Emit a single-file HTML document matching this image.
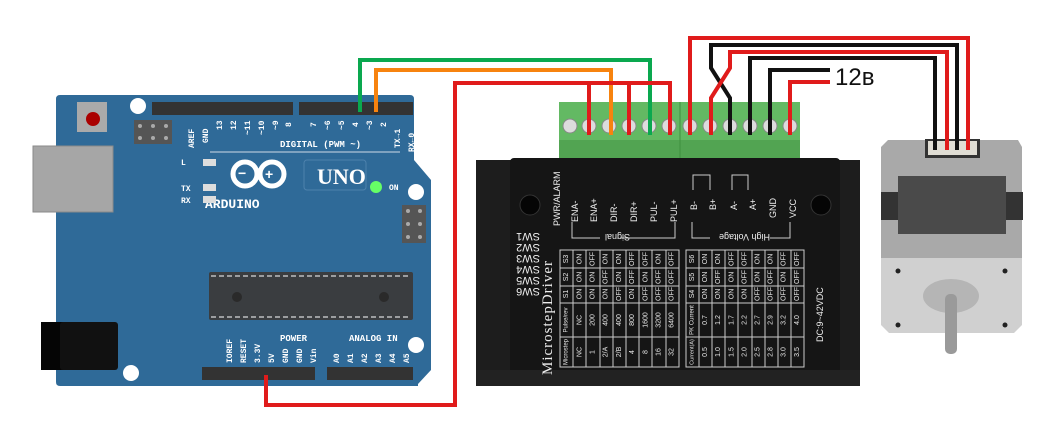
<!DOCTYPE html>
<html><head><meta charset="utf-8"><style>
html,body{margin:0;padding:0;background:#fff;}
svg{display:block}
.t7{font-family:"Liberation Sans",sans-serif;font-size:7px;fill:#e8e8e8;}
.lb{font-family:"Liberation Sans",sans-serif;font-size:9px;fill:#eee;}
.ar{font-family:"Liberation Mono",monospace;font-weight:bold;fill:#fff;}
</style></head><body>
<svg width="1061" height="434" viewBox="0 0 1061 434" xmlns="http://www.w3.org/2000/svg">
<rect width="1061" height="434" fill="#fff"/>
<!-- ARDUINO -->
<path d="M60 95 H410 Q414 95 414 99 V160 L431 180 V370 L418 384 V386 H60 Q56 386 56 382 V99 Q56 95 60 95Z" fill="#2f6a98"/>
<rect x="33" y="146" width="80" height="66" fill="#a6a6a6" stroke="#8a8a8a"/>
<rect x="41" y="322" width="56" height="48" fill="#050505"/>
<rect x="60" y="322" width="58" height="48" rx="3" fill="#111"/>
<rect x="77" y="102" width="30" height="30" fill="#aaa"/>
<circle cx="93" cy="119" r="7" fill="#a00"/>
<circle cx="138" cy="106" r="8" fill="#fff"/>
<circle cx="416" cy="192" r="8" fill="#fff"/>
<circle cx="416" cy="345" r="8" fill="#fff"/>
<circle cx="131" cy="373" r="8" fill="#fff"/>
<rect x="134" y="120" width="38" height="24" fill="#555"/>
<g fill="#aaa"><circle cx="140" cy="126" r="2"/><circle cx="153" cy="126" r="2"/><circle cx="166" cy="126" r="2"/><circle cx="140" cy="138" r="2"/><circle cx="153" cy="138" r="2"/><circle cx="166" cy="138" r="2"/></g>
<rect x="152" y="102" width="141" height="13" fill="#333"/>
<rect x="299" y="102" width="114" height="13" fill="#333"/>
<rect x="202" y="367" width="113" height="13" fill="#333"/>
<rect x="327" y="367" width="86" height="13" fill="#333"/>
<rect x="402" y="205" width="24" height="38" fill="#555"/>
<g fill="#aaa"><circle cx="408" cy="211" r="2"/><circle cx="420" cy="211" r="2"/><circle cx="408" cy="224" r="2"/><circle cx="420" cy="224" r="2"/><circle cx="408" cy="237" r="2"/><circle cx="420" cy="237" r="2"/></g>
<rect x="209" y="272" width="204" height="48" rx="2" fill="#3a3d40"/>
<line x1="211" y1="276" x2="411" y2="276" stroke="#fff" stroke-dasharray="5 3"/>
<line x1="211" y1="317" x2="411" y2="317" stroke="#fff" stroke-dasharray="5 3"/>
<circle cx="237" cy="297" r="5" fill="#2a2a2a"/><circle cx="384" cy="297" r="5" fill="#2a2a2a"/>
<g class="ar" font-size="9">
<text x="280" y="147">DIGITAL (PWM ~)</text>
<text x="205" y="208" font-size="13">ARDUINO</text>
<text x="317" y="184" font-size="22" font-family="Liberation Serif">UNO</text>
<text x="389" y="190" font-size="8">ON</text>
<text x="181" y="165" font-size="8">L</text>
<text x="181" y="191" font-size="8">TX</text>
<text x="181" y="203" font-size="8">RX</text>
<text x="280" y="341">POWER</text>
<text x="349" y="341">ANALOG IN</text>
</g>
<g class="ar" font-size="8">
<text transform="translate(194,148) rotate(-90)">AREF</text>
<text transform="translate(208,143) rotate(-90)">GND</text>
<text transform="translate(222,130) rotate(-90)">13</text>
<text transform="translate(236,130) rotate(-90)">12</text>
<text transform="translate(250,135) rotate(-90)">~11</text>
<text transform="translate(264,135) rotate(-90)">~10</text>
<text transform="translate(278,130) rotate(-90)">~9</text>
<text transform="translate(291,127) rotate(-90)">8</text>
<text transform="translate(316,127) rotate(-90)">7</text>
<text transform="translate(330,130) rotate(-90)">~6</text>
<text transform="translate(344,130) rotate(-90)">~5</text>
<text transform="translate(358,127) rotate(-90)">4</text>
<text transform="translate(372,130) rotate(-90)">~3</text>
<text transform="translate(386,127) rotate(-90)">2</text>
<text transform="translate(400,148) rotate(-90)">TX→1</text>
<text transform="translate(414,152) rotate(-90)">RX←0</text>
<text transform="translate(232,363) rotate(-90)">IOREF</text>
<text transform="translate(246,363) rotate(-90)">RESET</text>
<text transform="translate(260,363) rotate(-90)">3.3V</text>
<text transform="translate(274,363) rotate(-90)">5V</text>
<text transform="translate(288,363) rotate(-90)">GND</text>
<text transform="translate(302,363) rotate(-90)">GND</text>
<text transform="translate(316,363) rotate(-90)">Vin</text>
<text transform="translate(339,363) rotate(-90)">A0</text>
<text transform="translate(353,363) rotate(-90)">A1</text>
<text transform="translate(367,363) rotate(-90)">A2</text>
<text transform="translate(381,363) rotate(-90)">A3</text>
<text transform="translate(395,363) rotate(-90)">A4</text>
<text transform="translate(409,363) rotate(-90)">A5</text>
</g>
<line x1="210" y1="152" x2="400" y2="152" stroke="#cfdbe6"/>
<g fill="none" stroke="#fff" stroke-width="5"><circle cx="245" cy="174" r="12"/><circle cx="272" cy="174" r="12"/></g>
<text x="238" y="178" fill="#fff" font-size="14" font-weight="bold" font-family="Liberation Sans">−</text>
<text x="265" y="179" fill="#fff" font-size="14" font-weight="bold" font-family="Liberation Sans">+</text>
<rect x="304" y="160" width="62" height="30" rx="3" fill="none" stroke="#4e82ad"/>
<rect x="203" y="159" width="13" height="7" fill="#ddd"/><rect x="203" y="184" width="13" height="7" fill="#ddd"/><rect x="203" y="196" width="13" height="7" fill="#ddd"/>
<circle cx="376" cy="187" r="6" fill="#6f6"/>
<!-- DRIVER -->
<rect x="476" y="160" width="384" height="226" fill="#1d1d1d"/>
<rect x="510" y="158" width="330" height="222" rx="4" fill="#151515"/>
<rect x="476" y="370" width="384" height="16" fill="#222"/>
<circle cx="530" cy="205" r="10" fill="#050505" stroke="#333"/>
<circle cx="821" cy="205" r="10" fill="#050505" stroke="#333"/>
<rect x="559" y="102" width="241" height="56" fill="#63b963"/>
<rect x="559" y="140" width="241" height="18" fill="#52a452"/>
<line x1="680" y1="102" x2="680" y2="158" stroke="#3f8f3f"/>
<g fill="#dcdcdc" stroke="#888">
<circle cx="570" cy="126" r="7"/><circle cx="589" cy="126" r="7"/><circle cx="609" cy="126" r="7"/><circle cx="629" cy="126" r="7"/><circle cx="649" cy="126" r="7"/><circle cx="669" cy="126" r="7"/>
<circle cx="690" cy="126" r="7"/><circle cx="710" cy="126" r="7"/><circle cx="730" cy="126" r="7"/><circle cx="750" cy="126" r="7"/><circle cx="770" cy="126" r="7"/><circle cx="790" cy="126" r="7"/>
</g>
<g class="lb">
<text transform="translate(560,226) rotate(-90)" font-size="9">PWR/ALARM</text>
<text transform="translate(578,222) rotate(-90)">ENA-</text>
<text transform="translate(597,222) rotate(-90)">ENA+</text>
<text transform="translate(617,222) rotate(-90)">DIR-</text>
<text transform="translate(637,222) rotate(-90)">DIR+</text>
<text transform="translate(657,222) rotate(-90)">PUL-</text>
<text transform="translate(677,222) rotate(-90)">PUL+</text>
<text transform="translate(697,210) rotate(-90)">B-</text>
<text transform="translate(716,210) rotate(-90)">B+</text>
<text transform="translate(737,210) rotate(-90)">A-</text>
<text transform="translate(756,210) rotate(-90)">A+</text>
<text transform="translate(776,218) rotate(-90)">GND</text>
<text transform="translate(796,218) rotate(-90)">VCC</text>
<text transform="translate(630,234) rotate(180)">Signal</text>
<text transform="translate(770,234) rotate(180)">High Voltage</text>
<text transform="translate(823,342) rotate(-90)">DC:9~42VDC</text>
<text transform="translate(552,375) rotate(-90)" font-size="15" font-family="Liberation Serif" letter-spacing="1">MicrostepDriver</text>
<g font-size="11">
<text transform="translate(540,233) rotate(180)">SW1</text>
<text transform="translate(540,244) rotate(180)">SW2</text>
<text transform="translate(540,255) rotate(180)">SW3</text>
<text transform="translate(540,266) rotate(180)">SW4</text>
<text transform="translate(540,277) rotate(180)">SW5</text>
<text transform="translate(540,288) rotate(180)">SW6</text>
</g>
</g>
<g fill="none" stroke="#ccc" stroke-width="1">
<path d="M572 222 V238 H600 M620 238 H675 V222"/>
<path d="M692 222 V238 H710 M770 238 H790 V222"/>
<path d="M693 190 V175 H710 V190 M732 190 V175 H748 V190"/>
<rect x="560" y="250" width="119" height="117"/>
<rect x="686" y="250" width="118" height="117"/>
<path d="M560 268H679M560 286H679M560 303H679M560 337H679M686 268H804M686 286H804M686 303H804M686 337H804"/>
<path d="M573 250V367M586 250V367M600 250V367M613 250V367M626 250V367M639 250V367M652 250V367M666 250V367"/>
<path d="M699 250V367M712 250V367M725 250V367M738 250V367M752 250V367M765 250V367M778 250V367M791 250V367"/>
</g>
<g class="t7" text-anchor="middle" dominant-baseline="central">
<text transform="translate(566.6,352) rotate(-90)" font-size="6">Microstep</text><text transform="translate(566.6,320) rotate(-90)" font-size="6">Pulse/rev</text><text transform="translate(566.6,294) rotate(-90)">S1</text><text transform="translate(566.6,277) rotate(-90)">S2</text><text transform="translate(566.6,259) rotate(-90)">S3</text>
<text transform="translate(579.8,352) rotate(-90)">NC</text><text transform="translate(579.8,320) rotate(-90)">NC</text><text transform="translate(579.8,294) rotate(-90)">ON</text><text transform="translate(579.8,277) rotate(-90)">ON</text><text transform="translate(579.8,259) rotate(-90)">ON</text>
<text transform="translate(593,352) rotate(-90)">1</text><text transform="translate(593,320) rotate(-90)">200</text><text transform="translate(593,294) rotate(-90)">ON</text><text transform="translate(593,277) rotate(-90)">ON</text><text transform="translate(593,259) rotate(-90)">OFF</text>
<text transform="translate(606.2,352) rotate(-90)">2/A</text><text transform="translate(606.2,320) rotate(-90)">400</text><text transform="translate(606.2,294) rotate(-90)">ON</text><text transform="translate(606.2,277) rotate(-90)">OFF</text><text transform="translate(606.2,259) rotate(-90)">ON</text>
<text transform="translate(619.4,352) rotate(-90)">2/B</text><text transform="translate(619.4,320) rotate(-90)">400</text><text transform="translate(619.4,294) rotate(-90)">OFF</text><text transform="translate(619.4,277) rotate(-90)">ON</text><text transform="translate(619.4,259) rotate(-90)">ON</text>
<text transform="translate(632.6,352) rotate(-90)">4</text><text transform="translate(632.6,320) rotate(-90)">800</text><text transform="translate(632.6,294) rotate(-90)">ON</text><text transform="translate(632.6,277) rotate(-90)">OFF</text><text transform="translate(632.6,259) rotate(-90)">OFF</text>
<text transform="translate(645.8,352) rotate(-90)">8</text><text transform="translate(645.8,320) rotate(-90)">1600</text><text transform="translate(645.8,294) rotate(-90)">OFF</text><text transform="translate(645.8,277) rotate(-90)">ON</text><text transform="translate(645.8,259) rotate(-90)">OFF</text>
<text transform="translate(659,352) rotate(-90)">16</text><text transform="translate(659,320) rotate(-90)">3200</text><text transform="translate(659,294) rotate(-90)">OFF</text><text transform="translate(659,277) rotate(-90)">OFF</text><text transform="translate(659,259) rotate(-90)">ON</text>
<text transform="translate(672.2,352) rotate(-90)">32</text><text transform="translate(672.2,320) rotate(-90)">6400</text><text transform="translate(672.2,294) rotate(-90)">OFF</text><text transform="translate(672.2,277) rotate(-90)">OFF</text><text transform="translate(672.2,259) rotate(-90)">OFF</text>
<text transform="translate(692.5,352) rotate(-90)" font-size="5.5">Current(A)</text><text transform="translate(692.5,320) rotate(-90)" font-size="6">PK Current</text><text transform="translate(692.5,294) rotate(-90)">S4</text><text transform="translate(692.5,277) rotate(-90)">S5</text><text transform="translate(692.5,259) rotate(-90)">S6</text>
<text transform="translate(705.6,352) rotate(-90)">0.5</text><text transform="translate(705.6,320) rotate(-90)">0.7</text><text transform="translate(705.6,294) rotate(-90)">ON</text><text transform="translate(705.6,277) rotate(-90)">ON</text><text transform="translate(705.6,259) rotate(-90)">ON</text>
<text transform="translate(718.7,352) rotate(-90)">1.0</text><text transform="translate(718.7,320) rotate(-90)">1.2</text><text transform="translate(718.7,294) rotate(-90)">ON</text><text transform="translate(718.7,277) rotate(-90)">OFF</text><text transform="translate(718.7,259) rotate(-90)">ON</text>
<text transform="translate(731.8,352) rotate(-90)">1.5</text><text transform="translate(731.8,320) rotate(-90)">1.7</text><text transform="translate(731.8,294) rotate(-90)">ON</text><text transform="translate(731.8,277) rotate(-90)">ON</text><text transform="translate(731.8,259) rotate(-90)">OFF</text>
<text transform="translate(744.9,352) rotate(-90)">2.0</text><text transform="translate(744.9,320) rotate(-90)">2.2</text><text transform="translate(744.9,294) rotate(-90)">ON</text><text transform="translate(744.9,277) rotate(-90)">OFF</text><text transform="translate(744.9,259) rotate(-90)">OFF</text>
<text transform="translate(758,352) rotate(-90)">2.5</text><text transform="translate(758,320) rotate(-90)">2.7</text><text transform="translate(758,294) rotate(-90)">OFF</text><text transform="translate(758,277) rotate(-90)">ON</text><text transform="translate(758,259) rotate(-90)">ON</text>
<text transform="translate(771.1,352) rotate(-90)">2.8</text><text transform="translate(771.1,320) rotate(-90)">2.9</text><text transform="translate(771.1,294) rotate(-90)">OFF</text><text transform="translate(771.1,277) rotate(-90)">OFF</text><text transform="translate(771.1,259) rotate(-90)">ON</text>
<text transform="translate(784.2,352) rotate(-90)">3.0</text><text transform="translate(784.2,320) rotate(-90)">3.2</text><text transform="translate(784.2,294) rotate(-90)">OFF</text><text transform="translate(784.2,277) rotate(-90)">ON</text><text transform="translate(784.2,259) rotate(-90)">OFF</text>
<text transform="translate(797.3,352) rotate(-90)">3.5</text><text transform="translate(797.3,320) rotate(-90)">4.0</text><text transform="translate(797.3,294) rotate(-90)">OFF</text><text transform="translate(797.3,277) rotate(-90)">OFF</text><text transform="translate(797.3,259) rotate(-90)">OFF</text>
</g>
<!-- MOTOR -->
<path d="M888 140 L1018 140 L1022 147 V258 H881 V147Z" fill="#a9a9a9"/>
<path d="M881 258 H1022 V325 L1014 333 H889 L881 325Z" fill="#d0d0d0"/>
<rect x="898" y="176" width="108" height="58" fill="#4a4a4a"/>
<rect x="881" y="192" width="17" height="28" fill="#333"/><rect x="1006" y="192" width="17" height="28" fill="#333"/>
<rect x="925" y="139" width="55" height="19" fill="#333"/><rect x="928" y="141" width="49" height="14" fill="#e0ddd4"/>
<ellipse cx="951" cy="296" rx="28" ry="17" fill="#b5b5b5"/>
<rect x="945" y="294" width="12" height="60" rx="5" fill="#9a9a9a"/>
<g fill="#222"><circle cx="898" cy="271" r="2.5"/><circle cx="1005" cy="271" r="2.5"/><circle cx="898" cy="325" r="2.5"/><circle cx="1005" cy="325" r="2.5"/></g>
<!-- WIRES -->
<g fill="none" stroke-width="4" stroke-linejoin="miter">
<path d="M360 112 V60 H650 V135" stroke="#0aa84f"/>
<path d="M376 112 V70 H611 V135" stroke="#f7830f"/>
<path d="M266 375 V405 H455 V83 H670 V135 M589 83 V135 M629 83 V135" stroke="#e01b1b"/>
<path d="M690 135 V38 H968 V150" stroke="#e01b1b"/>
<path d="M730 135 V98 L711 68 V45 H957 V150" stroke="#111"/>
<path d="M711 135 V98 L730 68 V52 H947 V150" stroke="#e01b1b"/>
<path d="M750 135 V58 H935 V150" stroke="#111"/>
<path d="M770 135 V70 H830" stroke="#111"/>
<path d="M790 135 V82 H830" stroke="#e01b1b"/>
</g>
<text x="835" y="85" font-family="Liberation Sans" font-size="24" fill="#111">12в</text>
</svg>
</body></html>
